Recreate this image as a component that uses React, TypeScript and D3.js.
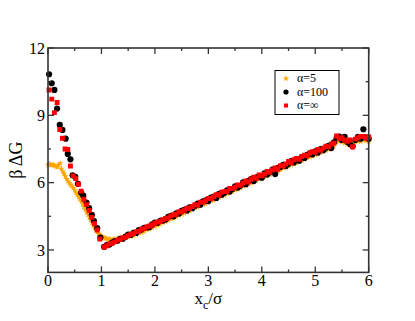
import * as d3 from "d3";

// sampled positions, separation x_c / sigma
const leftX100 = [0.02, 0.07, 0.12, 0.17, 0.22, 0.27, 0.33, 0.37, 0.42, 0.46, 0.51, 0.56, 0.62, 0.66, 0.72, 0.77, 0.82, 0.86, 0.92, 0.98];
const leftY100 = [10.83, 10.43, 10.13, 9.30, 8.57, 8.35, 7.96, 7.28, 7.04, 6.33, 6.26, 5.95, 5.55, 5.42, 5.11, 4.86, 4.56, 4.29, 3.97, 3.55];

const leftXInf = [0.02, 0.07, 0.12, 0.17, 0.22, 0.27, 0.32, 0.37, 0.42, 0.47, 0.52, 0.57, 0.62, 0.67, 0.72, 0.77, 0.82, 0.87, 0.92, 0.97];
const leftYInf = [10.13, 9.72, 9.12, 9.57, 8.37, 7.98, 7.50, 7.48, 6.74, 6.30, 6.18, 5.93, 5.62, 5.26, 5.02, 4.76, 4.45, 4.17, 3.89, 3.49];

// right branch, x = 1.05 ... 6.00 every 0.05
const rightY100 = [
  3.14, 3.22, 3.24, 3.33, 3.40, 3.41, 3.50, 3.50, 3.59, 3.68,
  3.67, 3.76, 3.76, 3.88, 3.91, 3.99, 4.00, 4.02, 4.14, 4.22,
  4.21, 4.30, 4.31, 4.36, 4.47, 4.52, 4.50, 4.63, 4.62, 4.74,
  4.79, 4.76, 4.90, 4.86, 4.97, 5.07, 5.02, 5.17, 5.21, 5.18,
  5.33, 5.38, 5.32, 5.50, 5.46, 5.55, 5.66, 5.60, 5.72, 5.84,
  5.78, 5.86, 6.01, 5.93, 6.08, 6.16, 6.07, 6.24, 6.27, 6.22,
  6.41, 6.36, 6.46, 6.58, 6.38, 6.66, 6.70, 6.79, 6.74, 6.84,
  6.96, 6.90, 7.05, 6.98, 7.14, 7.10, 7.24, 7.30, 7.26, 7.39,
  7.34, 7.50, 7.44, 7.55, 7.64, 7.54, 7.80, 7.98, 8.05, 7.90,
  8.04, 7.82, 7.72, 7.62, 7.90, 8.04, 7.96, 8.38, 8.02, 7.96,
];
const rightYInf = [
  3.12, 3.19, 3.27, 3.30, 3.36, 3.44, 3.46, 3.54, 3.57, 3.64,
  3.70, 3.73, 3.81, 3.84, 3.92, 3.95, 4.03, 4.07, 4.11, 4.19,
  4.24, 4.27, 4.35, 4.40, 4.43, 4.52, 4.57, 4.59, 4.70, 4.70,
  4.77, 4.86, 4.86, 4.94, 5.02, 5.00, 5.13, 5.13, 5.20, 5.30,
  5.29, 5.37, 5.46, 5.45, 5.57, 5.60, 5.61, 5.74, 5.74, 5.80,
  5.90, 5.88, 5.98, 6.08, 6.03, 6.15, 6.24, 6.19, 6.34, 6.31,
  6.38, 6.50, 6.46, 6.56, 6.66, 6.60, 6.76, 6.74, 6.83, 6.94,
  6.88, 7.02, 7.08, 7.04, 7.16, 7.22, 7.20, 7.32, 7.38, 7.35,
  7.48, 7.44, 7.54, 7.62, 7.60, 7.72, 7.76, 8.08, 7.96, 8.00,
  7.90, 7.84, 7.90, 7.60, 7.94, 8.00, 8.06, 8.06, 7.98, 8.04,
];

// alpha = 5: x = 0 ... 1.475 every 0.025, then 1.50 ... 6.00 every 0.05
const softY5a = [
  6.80, 6.82, 6.79, 6.81, 6.78, 6.76, 6.72, 6.70, 6.80, 6.86,
  6.62, 6.50, 6.40, 6.28, 6.16, 6.06, 5.98, 5.90, 5.84, 5.76,
  5.66, 5.56, 5.46, 5.36, 5.26, 5.16, 5.04, 4.92, 4.80, 4.68,
  4.57, 4.46, 4.34, 4.22, 4.10, 3.98, 3.88, 3.79, 3.72, 3.66,
  3.61, 3.57, 3.54, 3.52, 3.50, 3.48, 3.47, 3.46, 3.46, 3.46,
  3.47, 3.48, 3.49, 3.50, 3.52, 3.53, 3.55, 3.57, 3.59, 3.60,
];
const softY5b = [
  3.58, 3.60, 3.64, 3.69, 3.74, 3.78, 3.83, 3.90, 3.93, 3.99,
  4.05, 4.10, 4.15, 4.22, 4.26, 4.31, 4.38, 4.42, 4.47, 4.55,
  4.58, 4.64, 4.70, 4.74, 4.80, 4.87, 4.90, 4.96, 5.03, 5.06,
  5.12, 5.19, 5.22, 5.28, 5.35, 5.39, 5.44, 5.51, 5.55, 5.60,
  5.67, 5.71, 5.76, 5.84, 5.87, 5.92, 5.99, 6.03, 6.09, 6.16,
  6.19, 6.25, 6.32, 6.35, 6.41, 6.48, 6.51, 6.57, 6.64, 6.68,
  6.73, 6.80, 6.83, 6.88, 6.95, 6.98, 7.03, 7.10, 7.13, 7.18,
  7.25, 7.28, 7.33, 7.40, 7.43, 7.48, 7.55, 7.62, 7.80, 7.84,
  7.80, 7.76, 7.70, 7.66, 7.72, 7.80, 7.84, 7.82, 7.90, 7.86,
  7.82,
];

const xMajorTicks = [0, 1, 2, 3, 4, 5, 6];
const xMinorTicks = [0.5, 1.5, 2.5, 3.5, 4.5, 5.5];
const yMajorTicks = [3, 6, 9, 12];
const yMinorTicks = [4.5, 7.5, 10.5];

const legendLabels = ["α=5", "α=100", "α=∞"];

const W = 415;
const H = 321;
const font = "Times New Roman, Liberation Serif, serif";

const grid = (start: number, step: number, n: number) =>
  d3.range(n).map((i) => +(start + i * step).toFixed(3));

export default function App() {
  const x = d3.scaleLinear().domain([0, 6]).range([48, 368.7]);
  const y = d3.scaleLinear().domain([2, 12]).range([272.4, 48]);

  const rightX = grid(1.05, 0.05, rightY100.length);
  const s5 = [
    ...grid(0, 0.025, softY5a.length).map((v, i) => [v, softY5a[i]]),
    ...grid(1.5, 0.05, softY5b.length).map((v, i) => [v, softY5b[i]]),
  ];
  const s100 = [
    ...leftX100.map((v, i) => [v, leftY100[i]]),
    ...rightX.map((v, i) => [v, rightY100[i]]),
  ];
  const sInf = [
    ...leftXInf.map((v, i) => [v, leftYInf[i]]),
    ...rightX.map((v, i) => [v, rightYInf[i]]),
  ];

  const star = d3.symbol().type(d3.symbolStar).size(13);
  const square = d3.symbol().type(d3.symbolSquare).size(24);

  const [x0, x1] = x.range();
  const [y0, y1] = y.range();

  return (
    <svg
      width={W}
      height={H}
      fontFamily={font}
      style={{ position: "absolute", left: 0, top: 0, background: "white", fontFamily: font }}
    >
      <defs>
        <clipPath id="plotClip">
          <rect x={x0 - 4} y={y1 - 4} width={x1 - x0 + 8} height={y0 - y1 + 8} />
        </clipPath>
      </defs>

      {/* series */}
      <g clipPath="url(#plotClip)">
        {s5.map((d, i) => (
          <path key={"o" + i} d={star()!} transform={`translate(${x(d[0])},${y(d[1])})`} fill="#ffa500" />
        ))}
        {s100.map((d, i) => (
          <circle key={"b" + i} cx={x(d[0])} cy={y(d[1])} r={3.1} fill="#000" />
        ))}
        {sInf.map((d, i) => (
          <path key={"r" + i} d={square()!} transform={`translate(${x(d[0])},${y(d[1])})`} fill="#ff0000" />
        ))}
      </g>

      {/* frame */}
      <rect x={x0} y={y1} width={x1 - x0} height={y0 - y1} fill="none" stroke="#333" strokeWidth={1.6} />

      {/* x ticks, mirrored */}
      {xMajorTicks.map((t) => (
        <g key={"xM" + t}>
          <line x1={x(t)} x2={x(t)} y1={y0} y2={y0 - 6} stroke="#333" strokeWidth={1.3} />
          <line x1={x(t)} x2={x(t)} y1={y1} y2={y1 + 6} stroke="#333" strokeWidth={1.3} />
          <text x={x(t)} y={286} textAnchor="middle" fontSize={16}>{t}</text>
        </g>
      ))}
      {xMinorTicks.map((t) => (
        <g key={"xm" + t}>
          <line x1={x(t)} x2={x(t)} y1={y0} y2={y0 - 3} stroke="#333" strokeWidth={1.3} />
          <line x1={x(t)} x2={x(t)} y1={y1} y2={y1 + 3} stroke="#333" strokeWidth={1.3} />
        </g>
      ))}

      {/* y ticks, mirrored */}
      {yMajorTicks.map((t) => (
        <g key={"yM" + t}>
          <line x1={x0} x2={x0 + 6} y1={y(t)} y2={y(t)} stroke="#333" strokeWidth={1.3} />
          <line x1={x1} x2={x1 - 6} y1={y(t)} y2={y(t)} stroke="#333" strokeWidth={1.3} />
          <text x={45} y={y(t)} dy="0.35em" textAnchor="end" fontSize={16}>{t}</text>
        </g>
      ))}
      {yMinorTicks.map((t) => (
        <g key={"ym" + t}>
          <line x1={x0} x2={x0 + 3} y1={y(t)} y2={y(t)} stroke="#333" strokeWidth={1.3} />
          <line x1={x1} x2={x1 - 3} y1={y(t)} y2={y(t)} stroke="#333" strokeWidth={1.3} />
        </g>
      ))}

      {/* axis titles */}
      <text x={(x0 + x1) / 2} y={304} textAnchor="middle" fontSize={17}>
        x<tspan dy={5} fontSize={12}>c</tspan>
        <tspan dy={-5}>/σ</tspan>
      </text>
      <text transform={`translate(22,${(y0 + y1) / 2}) rotate(-90)`} textAnchor="middle" fontSize={18}>
        β ΔG
      </text>

      {/* legend */}
      <rect x={275} y={70.5} width={64} height={44} fill="white" stroke="#000" strokeWidth={1} />
      {legendLabels.map((label, i) => {
        const cy = 78.5 + i * 13.5;
        return (
          <g key={label}>
            {i === 0 && <path d={star()!} transform={`translate(286,${cy})`} fill="#ffa500" />}
            {i === 1 && <circle cx={286} cy={cy} r={2.6} fill="#000" />}
            {i === 2 && <rect x={284} y={cy - 2} width={4} height={4} fill="#ff0000" />}
            <text x={297} y={cy} dy="0.33em" fontSize={12}>{label}</text>
          </g>
        );
      })}
    </svg>
  );
}
